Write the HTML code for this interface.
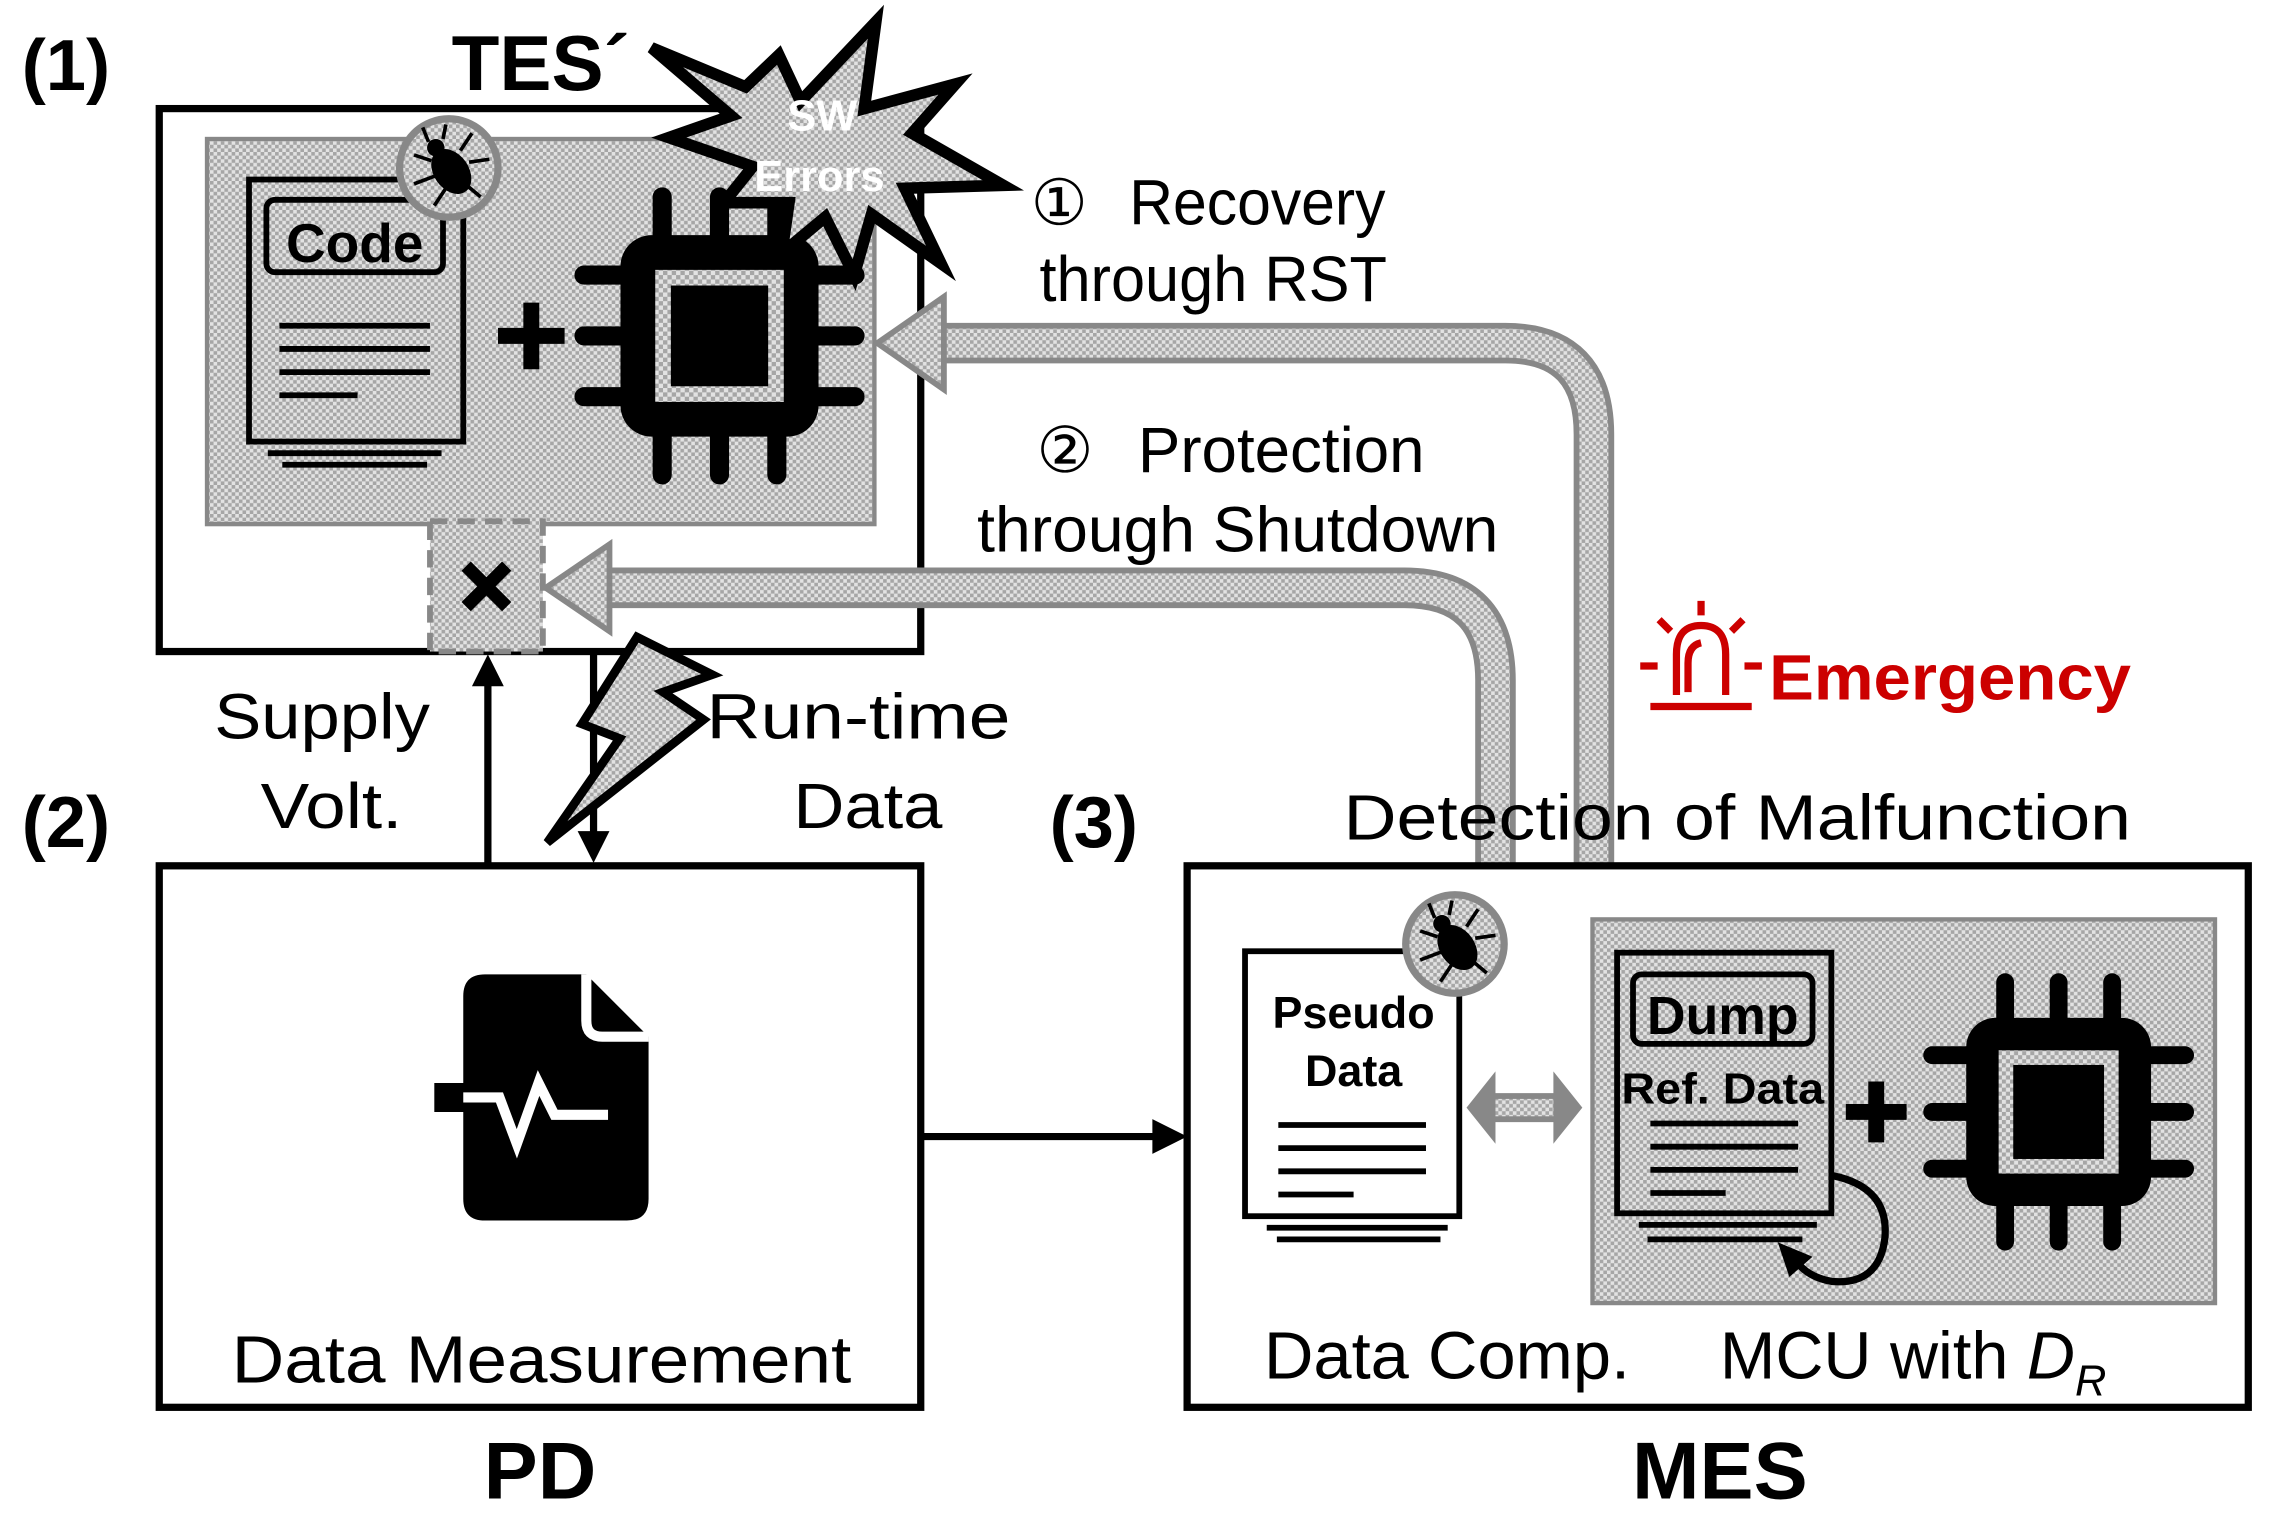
<!DOCTYPE html>
<html><head><meta charset="utf-8"><style>html,body{margin:0;padding:0;background:#fff}svg{display:block}</style></head>
<body>
<svg width="2270" height="1513" viewBox="0 0 1568 1045" preserveAspectRatio="none" xmlns="http://www.w3.org/2000/svg" font-family="Liberation Sans, sans-serif">
<defs>
<pattern id="ck" width="5" height="5" patternUnits="userSpaceOnUse">
<rect width="5" height="5" fill="#e2e2e2"/><rect width="2.5" height="2.5" fill="#a6a6a6"/><rect x="2.5" y="2.5" width="2.5" height="2.5" fill="#a6a6a6"/>
</pattern>
<g id="chip">
<rect x="-57" y="-58" width="114" height="116" rx="18" fill="#000"/>
<rect x="-37" y="-38" width="74" height="76" fill="url(#ck)"/>
<rect x="-28" y="-29" width="56" height="58" fill="#000"/>
<g stroke="#000" stroke-width="11" stroke-linecap="round">
<line x1="-78" y1="-35" x2="-57" y2="-35"/><line x1="-78" y1="0" x2="-57" y2="0"/><line x1="-78" y1="35" x2="-57" y2="35"/>
<line x1="78" y1="-35" x2="57" y2="-35"/><line x1="78" y1="0" x2="57" y2="0"/><line x1="78" y1="35" x2="57" y2="35"/>
<line x1="-33" y1="-80" x2="-33" y2="-58"/><line x1="0" y1="-80" x2="0" y2="-58"/><line x1="33" y1="-80" x2="33" y2="-58"/>
<line x1="-33" y1="80" x2="-33" y2="58"/><line x1="0" y1="80" x2="0" y2="58"/><line x1="33" y1="80" x2="33" y2="58"/>
</g></g>
<g id="bug">
<circle r="34" fill="url(#ck)" stroke="#888" stroke-width="5"/>
<ellipse cx="0" cy="3" rx="12" ry="17" fill="#000" transform="rotate(-35)"/>
<circle cx="-9" cy="-14" r="6" fill="#000"/>
<g stroke="#000" stroke-width="2.5" fill="none">
<path d="M-12 -5 l-12 -4 M-8 5 l-16 6 M-2 14 l-8 12 M8 -12 l8 -12 M14 -4 l14 -2 M10 10 l12 10 M-14 -18 l-4 -10 M-4 -20 l2 -10"/>
</g></g>
</defs>

<!-- Box 1 -->
<rect x="110" y="75" width="526" height="375" fill="#fff" stroke="#000" stroke-width="5"/>
<rect x="143" y="96" width="461" height="266" fill="url(#ck)" stroke="#888" stroke-width="3"/>
<rect x="172" y="124" width="148" height="181" fill="none" stroke="#000" stroke-width="4"/>
<rect x="184" y="138" width="122" height="50" rx="6" fill="none" stroke="#000" stroke-width="4"/>
<text x="245" y="181" font-size="38" font-weight="bold" text-anchor="middle">Code</text>
<g stroke="#000" stroke-width="4"><line x1="193" y1="225" x2="297" y2="225"/><line x1="193" y1="241" x2="297" y2="241"/><line x1="193" y1="257" x2="297" y2="257"/><line x1="193" y1="273" x2="247" y2="273"/><line x1="185" y1="313" x2="305" y2="313"/><line x1="195" y1="321" x2="295" y2="321"/></g>
<use href="#bug" x="310" y="116"/>
<path d="M344 232h46M367 209v46" stroke="#000" stroke-width="11"/>
<g transform="translate(497,232) scale(1.2)"><use href="#chip"/></g>
<!-- starburst -->
<polygon points="450,33 515,60 538,38 553,70 605,15 597,75 660,58 630,92 693,128 625,130 650,182 602,148 590,190 570,150 540,175 545,140 500,140 520,115 462,95 505,80" fill="url(#ck)" stroke="#000" stroke-width="8" stroke-linejoin="miter"/>
<text x="568" y="90" font-size="30" font-weight="bold" fill="#fff" text-anchor="middle">SW</text>
<text x="566" y="132" font-size="30" font-weight="bold" fill="#fff" text-anchor="middle">Errors</text>
<text x="312" y="62" font-size="54" font-weight="bold">TES´</text>

<!-- dashed switch -->
<rect x="297" y="360" width="78" height="90" fill="url(#ck)" stroke="#888" stroke-width="4" stroke-dasharray="12,7"/>
<path d="M322 391l28 28M350 391l-28 28" stroke="#000" stroke-width="9"/>

<!-- fat arrows -->
<path d="M1101 596 V300 Q1101 237 1040 237 H650" fill="none" stroke="#888" stroke-width="28"/>
<path d="M1101 596 V300 Q1101 237 1040 237 H650" fill="none" stroke="url(#ck)" stroke-width="20"/>
<polygon points="606,237 652,205 652,269" fill="url(#ck)" stroke="#888" stroke-width="4"/>
<path d="M1033 596 V470 Q1033 406 970 406 H420" fill="none" stroke="#888" stroke-width="28"/>
<path d="M1033 596 V470 Q1033 406 970 406 H420" fill="none" stroke="url(#ck)" stroke-width="20"/>
<polygon points="377,406 421,376 421,436" fill="url(#ck)" stroke="#888" stroke-width="4"/>

<g font-size="44" fill="#000">
<text x="712" y="155">①</text><text x="780" y="155" textLength="177" lengthAdjust="spacingAndGlyphs">Recovery</text>
<text x="718" y="208" textLength="240" lengthAdjust="spacingAndGlyphs">through RST</text>
<text x="716" y="326">②</text><text x="786" y="326" textLength="198" lengthAdjust="spacingAndGlyphs">Protection</text>
<text x="675" y="381" textLength="360" lengthAdjust="spacingAndGlyphs">through Shutdown</text>
<text x="928" y="580" textLength="544" lengthAdjust="spacingAndGlyphs">Detection of Malfunction</text>
<text x="148" y="510" textLength="149" lengthAdjust="spacingAndGlyphs">Supply</text>
<text x="180" y="572" textLength="98" lengthAdjust="spacingAndGlyphs">Volt.</text>
<text x="488" y="510" textLength="210" lengthAdjust="spacingAndGlyphs">Run-time</text>
<text x="548" y="572" textLength="103" lengthAdjust="spacingAndGlyphs">Data</text>
</g>
<!-- emergency -->
<g stroke="#c00" stroke-width="5" fill="none">
<path d="M1158 480 V452 Q1158 432 1175 432 Q1192 432 1192 452 V480"/>
<path d="M1175 444 Q1166 446 1166 458 V478"/>
<line x1="1140" y1="488" x2="1210" y2="488"/>
<path d="M1175 415v10M1146 428l8 8M1204 428l-8 8M1133 460h12M1205 460h12"/>
</g>
<text x="1222" y="483" font-size="44" font-weight="bold" fill="#c00" textLength="250" lengthAdjust="spacingAndGlyphs">Emergency</text>

<text x="15" y="62" font-size="50" font-weight="bold">(1)</text>
<text x="15" y="585" font-size="50" font-weight="bold">(2)</text>
<text x="725" y="585" font-size="50" font-weight="bold">(3)</text>

<!-- arrows between -->
<line x1="337" y1="597" x2="337" y2="470" stroke="#000" stroke-width="5"/>
<polygon points="337,452 326,474 348,474" fill="#000"/>
<line x1="410" y1="450" x2="410" y2="578" stroke="#000" stroke-width="5"/>
<polygon points="410,596 399,574 421,574" fill="#000"/>
<polygon points="440,440 492,466 458,478 486,497 378,582 428,510 402,500" fill="url(#ck)" stroke="#000" stroke-width="6" stroke-linejoin="miter"/>

<!-- Box 2 -->
<rect x="110" y="598" width="526" height="374" fill="#fff" stroke="#000" stroke-width="5"/>
<path d="M335 673 H405 L448 716 V828 Q448 843 433 843 H335 Q320 843 320 828 V768 H300 V748 H320 V688 Q320 673 335 673Z" fill="#000"/>
<path d="M405 673 V705 Q405 716 416 716 H448" fill="none" stroke="#fff" stroke-width="7"/>
<path d="M320 758 H345 L357 790 L372 748 L383 770 H420" fill="none" stroke="#fff" stroke-width="7" stroke-linejoin="miter"/>
<text x="160" y="955" font-size="46" textLength="428" lengthAdjust="spacingAndGlyphs">Data Measurement</text>
<text x="373" y="1035" font-size="56" font-weight="bold" text-anchor="middle">PD</text>

<line x1="636" y1="785" x2="800" y2="785" stroke="#000" stroke-width="5"/>
<polygon points="820,785 796,773 796,797" fill="#000"/>

<!-- Box 3 -->
<rect x="820" y="598" width="733" height="374" fill="#fff" stroke="#000" stroke-width="5"/>
<rect x="860" y="657" width="148" height="183" fill="#fff" stroke="#000" stroke-width="4"/>
<use href="#bug" x="1005" y="652"/>
<text x="935" y="710" font-size="31" font-weight="bold" text-anchor="middle">Pseudo</text>
<text x="935" y="750" font-size="31" font-weight="bold" text-anchor="middle">Data</text>
<g stroke="#000" stroke-width="4"><line x1="883" y1="777" x2="985" y2="777"/><line x1="883" y1="793" x2="985" y2="793"/><line x1="883" y1="809" x2="985" y2="809"/><line x1="883" y1="825" x2="935" y2="825"/><line x1="875" y1="848" x2="1000" y2="848"/><line x1="882" y1="856" x2="995" y2="856"/></g>
<polygon points="1013,765 1033,740 1033,755 1073,755 1073,740 1093,765 1073,790 1073,775 1033,775 1033,790" fill="#888"/>
<rect x="1033" y="759" width="40" height="12" fill="url(#ck)"/>

<rect x="1100" y="635" width="430" height="265" fill="url(#ck)" stroke="#888" stroke-width="3"/>
<rect x="1117" y="658" width="148" height="180" fill="none" stroke="#000" stroke-width="4"/>
<rect x="1128" y="673" width="124" height="48" rx="6" fill="none" stroke="#000" stroke-width="4"/>
<text x="1190" y="714" font-size="37" font-weight="bold" text-anchor="middle">Dump</text>
<text x="1190" y="762" font-size="30" font-weight="bold" text-anchor="middle" textLength="140" lengthAdjust="spacingAndGlyphs">Ref. Data</text>
<g stroke="#000" stroke-width="4"><line x1="1140" y1="776" x2="1242" y2="776"/><line x1="1140" y1="792" x2="1242" y2="792"/><line x1="1140" y1="808" x2="1242" y2="808"/><line x1="1140" y1="824" x2="1192" y2="824"/><line x1="1132" y1="846" x2="1255" y2="846"/><line x1="1138" y1="856" x2="1245" y2="856"/></g>
<path d="M1266 812 Q1305 820 1302 855 Q1298 888 1265 885 Q1248 882 1240 870" fill="none" stroke="#000" stroke-width="5"/>
<polygon points="1228,858 1252,868 1236,882" fill="#000"/>
<path d="M1275 768h42M1296 747v42" stroke="#000" stroke-width="11"/>
<g transform="translate(1422,768) scale(1.12)"><use href="#chip"/></g>
<text x="873" y="952" font-size="46" textLength="253" lengthAdjust="spacingAndGlyphs">Data Comp.</text>
<text x="1188" y="952" font-size="46">MCU with <tspan font-style="italic">D</tspan><tspan font-style="italic" font-size="30" dy="12">R</tspan></text>
<text x="1188" y="1035" font-size="56" font-weight="bold" text-anchor="middle">MES</text>
</svg>
</body></html>
